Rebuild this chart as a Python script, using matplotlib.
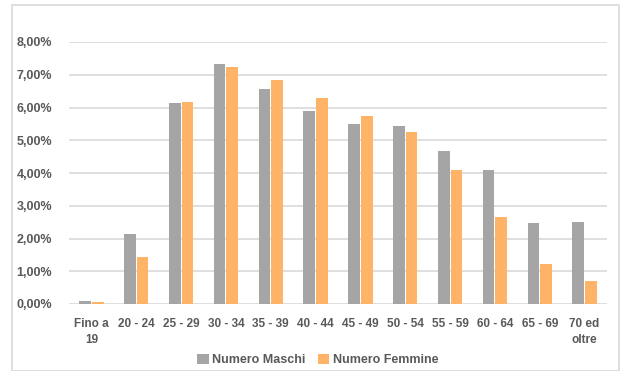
import matplotlib
matplotlib.use('Agg')
import matplotlib.pyplot as plt
import numpy as np
from matplotlib.patches import Rectangle
from matplotlib.ticker import FuncFormatter

categories = ['Fino a\n19', '20 - 24', '25 - 29', '30 - 34', '35 - 39', '40 - 44',
              '45 - 49', '50 - 54', '55 - 59', '60 - 64', '65 - 69', '70 ed\noltre']
maschi = [0.09, 2.13, 6.14, 7.33, 6.57, 5.89, 5.49, 5.44, 4.68, 4.09, 2.48, 2.51]
femmine = [0.05, 1.45, 6.18, 7.23, 6.83, 6.28, 5.73, 5.25, 4.08, 2.65, 1.22, 0.71]

GRAY = '#A5A5A5'
ORANGE = '#FFB366'
TEXT = '#595959'

plt.rcParams['font.family'] = ['Liberation Sans Narrow', 'Liberation Sans', 'DejaVu Sans']

fig = plt.figure(figsize=(6.21, 3.71), dpi=100)
# chart border
fig.patches.append(Rectangle((12 / 621, 0), 607 / 621, 366 / 371, transform=fig.transFigure,
                             fill=False, edgecolor='#D9D9D9', linewidth=1.2))

ax = fig.add_axes([69 / 621, 67 / 371, 538 / 621, 262 / 371])
x = np.arange(len(categories))
w = 0.26
ax.bar(x - w / 2 - 0.01, maschi, w, color=GRAY, label='Numero Maschi', zorder=3)
ax.bar(x + w / 2 + 0.01, femmine, w, color=ORANGE, label='Numero Femmine', zorder=3)

ax.set_xlim(-0.5, len(categories) - 0.5)
ax.set_ylim(0, 8)
ax.set_yticks(np.arange(0, 9, 1))
ax.yaxis.set_major_formatter(FuncFormatter(lambda v, p: f'{v:.2f}%'.replace('.', ',')))
ax.grid(axis='y', color='#D9D9D9', linewidth=1.2, zorder=0)
for s in ax.spines.values():
    s.set_visible(False)
ax.tick_params(length=0, colors=TEXT, labelsize=9)
ax.tick_params(axis='y', pad=12)
ax.tick_params(axis='x', pad=10, labelsize=8.5)
ax.set_xticks(x)
ax.set_xticklabels(categories, fontweight='bold', linespacing=1.5)
for t in ax.get_yticklabels():
    t.set_fontweight('bold')

fig.legend(loc='center', bbox_to_anchor=(318 / 621, 1 - 360 / 371), ncol=2, frameon=False,
           handlelength=0.9, handleheight=0.9, handletextpad=0.3, columnspacing=1.0,
           prop={'weight': 'bold', 'size': 9}, labelcolor=TEXT)

fig.savefig('out.png', dpi=100)
